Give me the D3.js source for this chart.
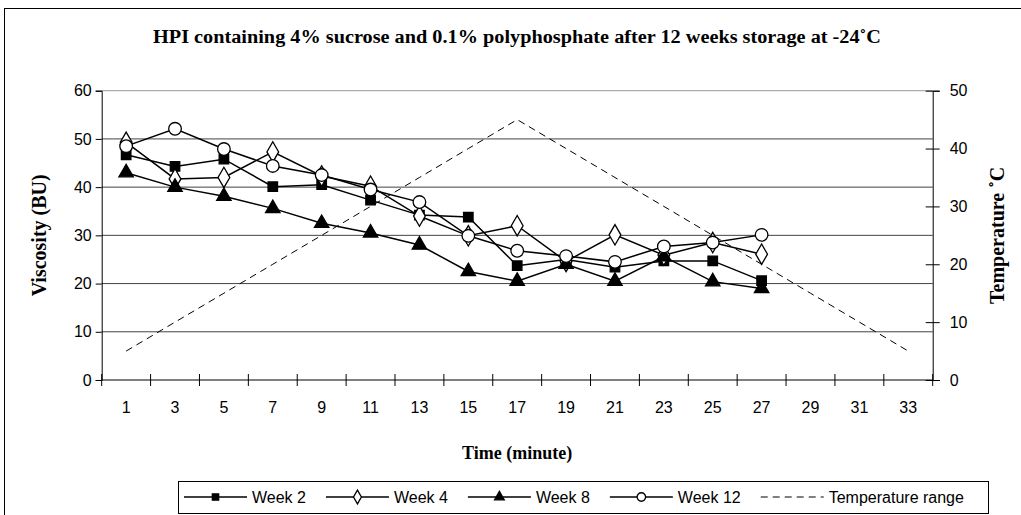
<!DOCTYPE html>
<html lang="en">
<head>
<meta charset="UTF-8">
<title>HPI viscosity</title>
<style>
    body { margin: 0; padding: 0; background: #fff; }
    svg { display: block; }
    .tick-num { font-family: "Liberation Sans", Arial, sans-serif; font-size: 16px; fill: #000; }
    .serif-b { font-family: "Liberation Serif", "Times New Roman", serif; font-weight: bold; fill: #000; }
</style>
</head>
<body>
<svg id="chart" width="1021" height="515"></svg>
<script src="https://d3js.org/d3.v7.min.js"></script>
<script>
    // time categories (minutes)
    const times = ["1","3","5","7","9","11","13","15","17","19","21","23","25","27","29","31","33"];

    // viscosity (BU) per week, measured at the first 14 time points
    const week2  = [46.7, 44.3, 45.8, 40.1, 40.5, 37.3, 34.2, 33.8, 23.7, 25.0, 23.4, 24.7, 24.7, 20.6];
    const week4  = [49.3, 41.7, 42.0, 47.3, 42.3, 40.2, 34.0, 29.9, 32.0, 24.6, 30.1, 25.9, 28.5, 26.1];
    const week8  = [43.0, 40.0, 38.1, 35.6, 32.5, 30.5, 28.0, 22.5, 20.5, 24.0, 20.5, 25.6, 20.4, 19.0];
    const week12 = [48.5, 52.1, 47.9, 44.4, 42.5, 39.5, 36.9, 29.9, 26.8, 25.7, 24.5, 27.7, 28.5, 30.1];

    // temperature range (deg C), right axis
    const tempRange = [5, 10, 15, 20, 25, 30, 35, 40, 45, 40, 35, 30, 25, 20, 15, 10, 5];

    const leftTicks = [0, 10, 20, 30, 40, 50, 60];
    const rightTicks = [0, 10, 20, 30, 40, 50];

    const series = [
        { name: "Week 2", values: week2, marker: "square" },
        { name: "Week 4", values: week4, marker: "diamond" },
        { name: "Week 8", values: week8, marker: "triangle" },
        { name: "Week 12", values: week12, marker: "circle" }
    ];

    const svg = d3.select("#chart");
    const plot = { left: 101.7, right: 932.7, top: 90.7, bottom: 380 };

    // outer frame
    svg.append("rect")
        .attr("x", 4.5).attr("y", 8.5)
        .attr("width", 1040).attr("height", 540)
        .attr("fill", "none").attr("stroke", "#000").attr("stroke-width", 1);

    const x = d3.scaleBand().domain(times).range([plot.left, plot.right]).padding(0);
    const cx = d => x(d) + x.bandwidth() / 2;
    const yL = d3.scaleLinear().domain([0, 60]).range([plot.bottom, plot.top]);
    const yR = d3.scaleLinear().domain([0, 50]).range([plot.bottom, plot.top]);

    // gridlines
    svg.append("g").selectAll("line")
        .data(leftTicks.filter(d => d > 0))
        .enter().append("line")
        .attr("x1", plot.left).attr("x2", plot.right)
        .attr("y1", d => yL(d)).attr("y2", d => yL(d))
        .attr("stroke", d => d === 60 ? "#999" : "#444").attr("stroke-width", 1);

    // left axis
    const gl = svg.append("g").attr("transform", `translate(${plot.left},0)`)
        .call(d3.axisLeft(yL).tickValues(leftTicks).tickSize(6).tickPadding(4));
    gl.select(".domain").attr("stroke", "#000");
    gl.selectAll(".tick line").attr("stroke", "#000");
    gl.selectAll("text").attr("class", "tick-num").attr("font-size", null).attr("font-family", null);

    // right axis (ticks cross the axis)
    const gr = svg.append("g").attr("transform", `translate(${plot.right},0)`)
        .call(d3.axisRight(yR).tickValues(rightTicks).tickSize(7).tickPadding(10));
    gr.selectAll(".tick line").attr("x1", -7);
    gr.selectAll("text").attr("class", "tick-num").attr("font-size", null).attr("font-family", null);

    // bottom axis: labels at category centres, tick marks at category boundaries
    const gb = svg.append("g").attr("transform", `translate(0,${plot.bottom})`)
        .call(d3.axisBottom(x).tickSize(0).tickPadding(22));
    gb.select(".domain").attr("d", `M${plot.left},0H${plot.right}`);
    gb.selectAll("text").attr("class", "tick-num").attr("font-size", null).attr("font-family", null);
    svg.append("g").selectAll("line")
        .data(times.map(d => x(d)).concat([plot.right]))
        .enter().append("line")
        .attr("x1", d => d).attr("x2", d => d)
        .attr("y1", plot.bottom - 6).attr("y2", plot.bottom + 6)
        .attr("stroke", "#000");

    // temperature line
    svg.append("path")
        .datum(tempRange)
        .attr("fill", "none").attr("stroke", "#000").attr("stroke-width", 1)
        .attr("stroke-dasharray", "7,5")
        .attr("d", d3.line().x((d, i) => cx(times[i])).y(d => yR(d)));

    const symbolType = { square: d3.symbolSquare, diamond: d3.symbolDiamond, triangle: d3.symbolTriangle, circle: d3.symbolCircle };
    const symbolSize = { square: 90, diamond: 120, triangle: 90, circle: 125 };
    const filled = { square: true, diamond: false, triangle: true, circle: false };

    function drawMarker(g, m, px, py, k) {
        g.append("path")
            .attr("d", d3.symbol().type(symbolType[m]).size(symbolSize[m] * (k || 1))())
            .attr("transform", `translate(${px},${py})`)
            .attr("fill", filled[m] ? "#000" : "#fff")
            .attr("stroke", "#000").attr("stroke-width", 1.3);
    }

    const line = d3.line().x((d, i) => cx(times[i])).y(d => yL(d));
    series.forEach(s => {
        const g = svg.append("g");
        g.append("path").datum(s.values)
            .attr("fill", "none").attr("stroke", "#000").attr("stroke-width", 1.5)
            .attr("d", line);
        s.values.forEach((v, i) => drawMarker(g, s.marker, cx(times[i]), yL(v)));
    });

    // titles
    svg.append("text").attr("class", "serif-b")
        .attr("x", 517).attr("y", 43).attr("text-anchor", "middle")
        .attr("font-size", 18)
        .attr("textLength", 728).attr("lengthAdjust", "spacingAndGlyphs")
        .text("HPI containing 4%  sucrose and 0.1%  polyphosphate after 12 weeks storage at -24˚C");

    svg.append("text").attr("class", "serif-b")
        .attr("x", (plot.left + plot.right) / 2).attr("y", 459).attr("text-anchor", "middle")
        .attr("font-size", 18).text("Time (minute)");

    svg.append("text").attr("class", "serif-b")
        .attr("transform", `translate(46,${(plot.top + plot.bottom) / 2}) rotate(-90)`)
        .attr("text-anchor", "middle").attr("font-size", 20).text("Viscosity (BU)");

    svg.append("text").attr("class", "serif-b")
        .attr("transform", `translate(1004,${(plot.top + plot.bottom) / 2}) rotate(-90)`)
        .attr("text-anchor", "middle").attr("font-size", 20).text("Temperature ˚C");

    // legend
    const lg = svg.append("g");
    const legItems = series.map(s => ({ name: s.name, marker: s.marker }))
        .concat([{ name: "Temperature range", marker: null }]);
    let lx = 184;
    const ly = 497;
    const sample = 63;
    legItems.forEach(it => {
        lg.append("line")
            .attr("x1", lx).attr("x2", lx + sample).attr("y1", ly).attr("y2", ly)
            .attr("stroke", "#000").attr("stroke-width", it.marker ? 1.5 : 1)
            .attr("stroke-dasharray", it.marker ? null : "7,5");
        if (it.marker) drawMarker(lg, it.marker, lx + sample / 2, ly, 0.45);
        const t = lg.append("text").attr("class", "tick-num")
            .attr("x", lx + sample + 5).attr("y", ly + 6).text(it.name);
        lx += sample + 5 + t.node().getComputedTextLength() + 20;
    });
    lg.insert("rect", ":first-child")
        .attr("x", 178.5).attr("y", 481.5)
        .attr("width", 988 - 178).attr("height", 32)
        .attr("fill", "#fff").attr("stroke", "#000");
</script>
</body>
</html>
